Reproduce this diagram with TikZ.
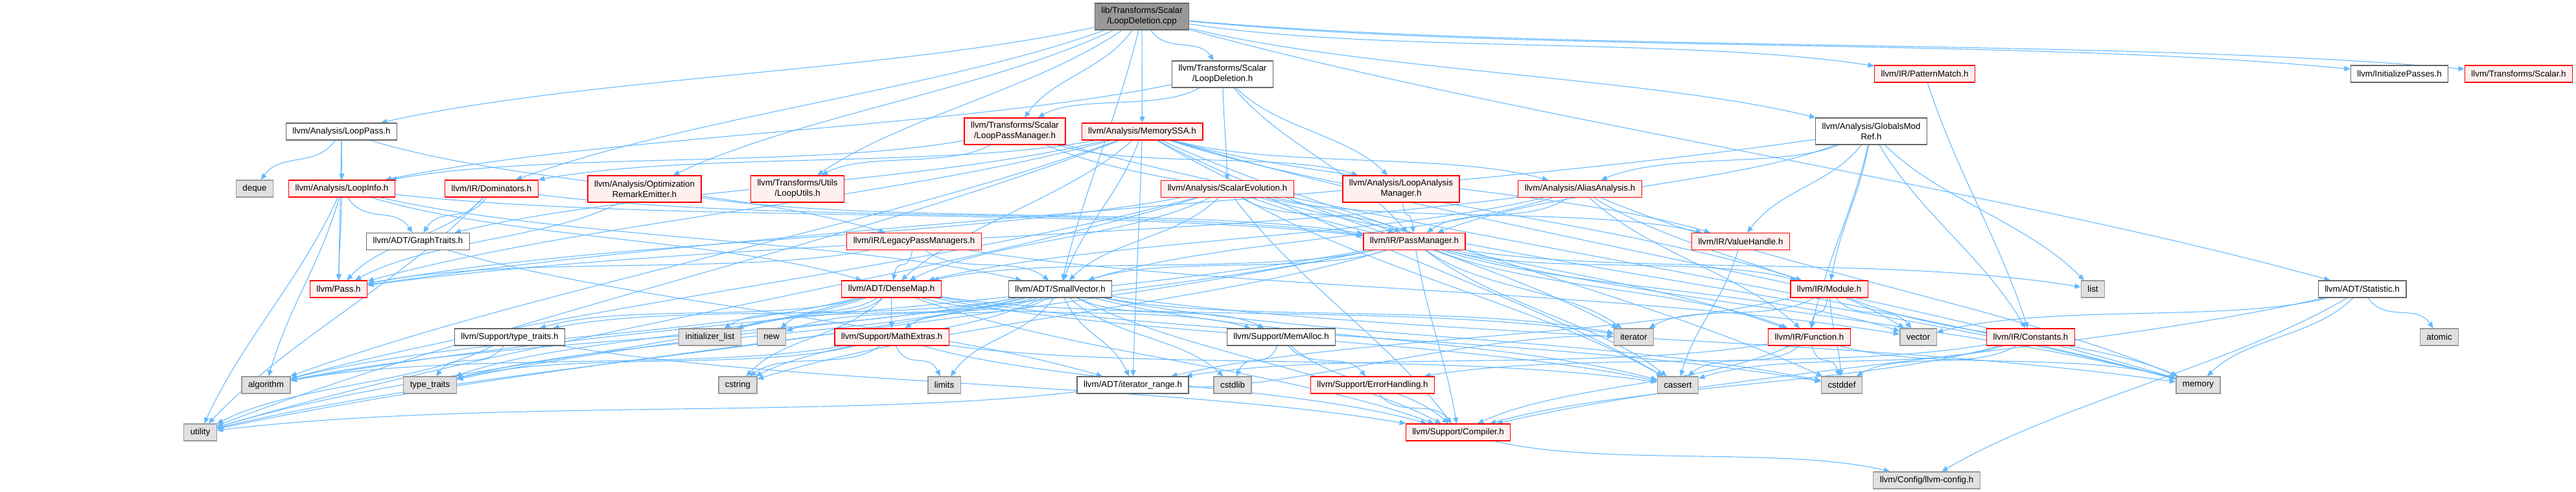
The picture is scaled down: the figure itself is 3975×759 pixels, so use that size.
\documentclass[tikz,border=0pt]{standalone}
\usepackage{fontspec}
\setmainfont{Liberation Sans}
\usetikzlibrary{arrows.meta, calc, backgrounds}
\definecolor{edgeblue}{HTML}{63B8FF}
\definecolor{incred}{HTML}{FF0000}
\definecolor{incfill}{HTML}{FFF0F0}
\definecolor{hdrgray}{HTML}{666666}
\definecolor{sysgray}{HTML}{999999}
\definecolor{sysfill}{HTML}{E0E0E0}
\definecolor{rootfill}{HTML}{999999}
\tikzset{
  hdr/.style={rectangle, line width=1pt, font=\fontsize{10}{12}\selectfont, align=center, inner xsep=7.5pt, inner ysep=3pt, minimum height=19.5pt},
  tall/.style={minimum height=30.75pt},
  rootfile/.style={hdr, draw=hdrgray, fill=rootfill},
  known/.style={hdr, draw=hdrgray, fill=white},
  trunc/.style={hdr, draw=incred, fill=incfill},
  sys/.style={hdr, draw=sysgray, fill=sysfill},
  dep/.style={draw=edgeblue, line width=0.8pt, -{Triangle[length=7pt,width=6pt]},
    to path={.. controls ($(\tikztostart)!0.3!(\tikztotarget)+(0,30)$) and ($(\tikztostart)!0.7!(\tikztotarget)+(0,-30)$) .. (\tikztotarget) \tikztonodes}}
}
\begin{document}
\begin{tikzpicture}[x=0.75pt,y=-0.75pt]
\useasboundingbox (0,0) rectangle (3975,759);
\node[rootfile, tall] (cpp) at (1762,25.5) {lib/Transforms/Scalar\\/LoopDeletion.cpp};
\node[known, tall] (ldh) at (1886.5,114.5) {llvm/Transforms/Scalar\\/LoopDeletion.h};
\node[trunc] (pmatch) at (2970,114) {llvm/IR/PatternMatch.h};
\node[known] (initp) at (3702.5,114) {llvm/InitializePasses.h};
\node[trunc] (scalar) at (3886.5,114) {llvm/Transforms/Scalar.h};
\node[known] (lpass) at (527,203) {llvm/Analysis/LoopPass.h};
\node[trunc, tall] (lpm) at (1566,202.5) {llvm/Transforms/Scalar\\/LoopPassManager.h};
\node[trunc] (mssa) at (1762.5,203) {llvm/Analysis/MemorySSA.h};
\node[known, tall] (gmr) at (2887.5,202.5) {llvm/Analysis/GlobalsMod\\Ref.h};
\node[sys] (deque) at (393,291) {deque};
\node[trunc] (linfo) at (527.5,291) {llvm/Analysis/LoopInfo.h};
\node[trunc] (dom) at (758.5,291) {llvm/IR/Dominators.h};
\node[trunc, tall] (ore) at (994.5,291.5) {llvm/Analysis/Optimization\\RemarkEmitter.h};
\node[trunc, tall] (lutils) at (1230.5,291.5) {llvm/Transforms/Utils\\/LoopUtils.h};
\node[trunc] (scev) at (1894,291.5) {llvm/Analysis/ScalarEvolution.h};
\node[trunc, tall] (lam) at (2162,291.5) {llvm/Analysis/LoopAnalysis\\Manager.h};
\node[trunc] (aa) at (2438,291.5) {llvm/Analysis/AliasAnalysis.h};
\node[known] (gtraits) at (645,372.5) {llvm/ADT/GraphTraits.h};
\node[trunc] (legacy) at (1410.5,372.5) {llvm/IR/LegacyPassManagers.h};
\node[trunc] (pm) at (2182.5,372.5) {llvm/IR/PassManager.h};
\node[trunc] (vh) at (2686,372.5) {llvm/IR/ValueHandle.h};
\node[trunc] (pass) at (522.5,446) {llvm/Pass.h};
\node[trunc] (dmap) at (1375.5,446) {llvm/ADT/DenseMap.h};
\node[known] (svec) at (1636,446) {llvm/ADT/SmallVector.h};
\node[trunc] (module) at (2822.5,446) {llvm/IR/Module.h};
\node[sys] (list) at (3229.5,446) {list};
\node[known] (stat) at (3645,446) {llvm/ADT/Statistic.h};
\node[known] (ttraitsh) at (786.5,520) {llvm/Support/type\_traits.h};
\node[sys] (initl) at (1095.5,520) {initializer\_list};
\node[sys] (new) at (1190.5,520) {new};
\node[trunc] (mathx) at (1376,520) {llvm/Support/MathExtras.h};
\node[known] (memalloc) at (1977,520) {llvm/Support/MemAlloc.h};
\node[sys] (iterator) at (2521,520) {iterator};
\node[trunc] (func) at (2792,520) {llvm/IR/Function.h};
\node[sys] (vector) at (2960,520) {vector};
\node[trunc] (irconst) at (3133.5,520) {llvm/IR/Constants.h};
\node[sys] (atomic) at (3764,520) {atomic};
\node[sys] (algorithm) at (410.5,594) {algorithm};
\node[sys] (ttraits) at (663.5,594) {type\_traits};
\node[sys] (cstring) at (1138.5,594) {cstring};
\node[sys] (limits) at (1457,594) {limits};
\node[known] (irange) at (1748,594) {llvm/ADT/iterator\_range.h};
\node[sys] (cstdlib) at (1902,594) {cstdlib};
\node[trunc] (errh) at (2118,594) {llvm/Support/ErrorHandling.h};
\node[sys] (cassert) at (2589,594) {cassert};
\node[sys] (cstddef) at (2842,594) {cstddef};
\node[sys] (memory) at (3392,594) {memory};
\node[sys] (utility) at (309,667) {utility};
\node[trunc] (compiler) at (2250,667) {llvm/Support/Compiler.h};
\node[sys] (config) at (2973,741) {llvm/Config/llvm-config.h};
\begin{pgfonlayer}{background}
\draw[dep] (cpp) to (ldh);
\draw[dep] (cpp) to (lpass);
\draw[dep] (cpp) to (dom);
\draw[dep] (cpp) to (ore);
\draw[dep] (cpp) to (lutils);
\draw[dep] (cpp) to (lpm);
\draw[dep] (cpp) to (mssa);
\draw[dep] (cpp) to (pmatch);
\draw[dep] (cpp) to (gmr);
\draw[dep] (cpp) to (initp);
\draw[dep] (cpp) to (scalar);
\draw[dep] (cpp) to (stat);
\draw[dep] (cpp) to (svec);
\draw[dep] (ldh) to (lpm);
\draw[dep] (ldh) to (linfo);
\draw[dep] (ldh) to (scev);
\draw[dep] (ldh) to (pm);
\draw[dep] (ldh) to (lam);
\draw[dep] (lpass) to (deque);
\draw[dep] (lpass) to (linfo);
\draw[dep] (lpass) to (legacy);
\draw[dep] (lpass) to (pass);
\draw[dep] (linfo) to (gtraits);
\draw[dep] (linfo) to (pass);
\draw[dep] (linfo) to (algorithm);
\draw[dep] (linfo) to (utility);
\draw[dep] (linfo) to (dmap);
\draw[dep] (linfo) to (svec);
\draw[dep] (linfo) to (pm);
\draw[dep] (dom) to (gtraits);
\draw[dep] (dom) to (pass);
\draw[dep] (dom) to (pm);
\draw[dep] (dom) to (utility);
\draw[dep] (ore) to (pass);
\draw[dep] (ore) to (pm);
\draw[dep] (lpm) to (lutils);
\draw[dep] (lpm) to (linfo);
\draw[dep] (lpm) to (lam);
\draw[dep] (lpm) to (pm);
\draw[dep] (lpm) to (memory);
\draw[dep] (mssa) to (dmap);
\draw[dep] (mssa) to (gtraits);
\draw[dep] (mssa) to (svec);
\draw[dep] (mssa) to (iterator);
\draw[dep] (mssa) to (irange);
\draw[dep] (mssa) to (aa);
\draw[dep] (mssa) to (dom);
\draw[dep] (mssa) to (module);
\draw[dep] (mssa) to (vh);
\draw[dep] (mssa) to (pass);
\draw[dep] (mssa) to (algorithm);
\draw[dep] (mssa) to (cassert);
\draw[dep] (mssa) to (cstddef);
\draw[dep] (mssa) to (memory);
\draw[dep] (mssa) to (utility);
\draw[dep] (scev) to (dmap);
\draw[dep] (scev) to (svec);
\draw[dep] (scev) to (func);
\draw[dep] (scev) to (pm);
\draw[dep] (scev) to (vh);
\draw[dep] (scev) to (pass);
\draw[dep] (scev) to (compiler);
\draw[dep] (scev) to (algorithm);
\draw[dep] (scev) to (cassert);
\draw[dep] (scev) to (memory);
\draw[dep] (scev) to (utility);
\draw[dep] (aa) to (dmap);
\draw[dep] (aa) to (svec);
\draw[dep] (aa) to (func);
\draw[dep] (aa) to (pm);
\draw[dep] (aa) to (pass);
\draw[dep] (aa) to (memory);
\draw[dep] (aa) to (vector);
\draw[dep] (gmr) to (aa);
\draw[dep] (gmr) to (irconst);
\draw[dep] (gmr) to (func);
\draw[dep] (gmr) to (module);
\draw[dep] (gmr) to (pm);
\draw[dep] (gmr) to (vh);
\draw[dep] (gmr) to (pass);
\draw[dep] (gmr) to (list);
\draw[dep] (lam) to (pm);
\draw[dep] (legacy) to (dmap);
\draw[dep] (legacy) to (svec);
\draw[dep] (legacy) to (pass);
\draw[dep] (legacy) to (vector);
\draw[dep] (pm) to (dmap);
\draw[dep] (pm) to (svec);
\draw[dep] (pm) to (func);
\draw[dep] (pm) to (module);
\draw[dep] (pm) to (compiler);
\draw[dep] (pm) to (algorithm);
\draw[dep] (pm) to (cassert);
\draw[dep] (pm) to (cstring);
\draw[dep] (pm) to (iterator);
\draw[dep] (pm) to (list);
\draw[dep] (pm) to (memory);
\draw[dep] (pm) to (ttraits);
\draw[dep] (pm) to (utility);
\draw[dep] (pm) to (vector);
\draw[dep] (vh) to (cassert);
\draw[dep] (pmatch) to (irconst);
\draw[dep] (dmap) to (initl);
\draw[dep] (dmap) to (new);
\draw[dep] (dmap) to (mathx);
\draw[dep] (dmap) to (cstring);
\draw[dep] (dmap) to (algorithm);
\draw[dep] (dmap) to (ttraits);
\draw[dep] (dmap) to (utility);
\draw[dep] (dmap) to (iterator);
\draw[dep] (dmap) to (cassert);
\draw[dep] (dmap) to (cstddef);
\draw[dep] (dmap) to (memalloc);
\draw[dep] (dmap) to (compiler);
\draw[dep] (dmap) to (ttraitsh);
\draw[dep] (svec) to (algorithm);
\draw[dep] (svec) to (cassert);
\draw[dep] (svec) to (cstddef);
\draw[dep] (svec) to (cstdlib);
\draw[dep] (svec) to (cstring);
\draw[dep] (svec) to (initl);
\draw[dep] (svec) to (iterator);
\draw[dep] (svec) to (limits);
\draw[dep] (svec) to (memory);
\draw[dep] (svec) to (new);
\draw[dep] (svec) to (ttraits);
\draw[dep] (svec) to (utility);
\draw[dep] (svec) to (irange);
\draw[dep] (svec) to (compiler);
\draw[dep] (svec) to (ttraitsh);
\draw[dep] (svec) to (mathx);
\draw[dep] (svec) to (memalloc);
\draw[dep] (mathx) to (cassert);
\draw[dep] (mathx) to (cstring);
\draw[dep] (mathx) to (limits);
\draw[dep] (mathx) to (ttraits);
\draw[dep] (mathx) to (compiler);
\draw[dep] (mathx) to (algorithm);
\draw[dep] (memalloc) to (cstdlib);
\draw[dep] (memalloc) to (errh);
\draw[dep] (memalloc) to (compiler);
\draw[dep] (errh) to (compiler);
\draw[dep] (compiler) to (config);
\draw[dep] (irange) to (utility);
\draw[dep] (irange) to (iterator);
\draw[dep] (ttraitsh) to (ttraits);
\draw[dep] (ttraitsh) to (utility);
\draw[dep] (ttraitsh) to (compiler);
\draw[dep] (module) to (irange);
\draw[dep] (module) to (func);
\draw[dep] (module) to (cstddef);
\draw[dep] (module) to (iterator);
\draw[dep] (module) to (memory);
\draw[dep] (module) to (vector);
\draw[dep] (func) to (irange);
\draw[dep] (func) to (cassert);
\draw[dep] (func) to (cstddef);
\draw[dep] (func) to (memory);
\draw[dep] (func) to (compiler);
\draw[dep] (irconst) to (cassert);
\draw[dep] (irconst) to (cstddef);
\draw[dep] (irconst) to (compiler);
\draw[dep] (irconst) to (errh);
\draw[dep] (stat) to (atomic);
\draw[dep] (stat) to (memory);
\draw[dep] (stat) to (config);
\draw[dep] (stat) to (compiler);
\draw[dep] (stat) to (vector);
\draw[dep] (gtraits) to (irange);
\end{pgfonlayer}
\end{tikzpicture}
\end{document}
